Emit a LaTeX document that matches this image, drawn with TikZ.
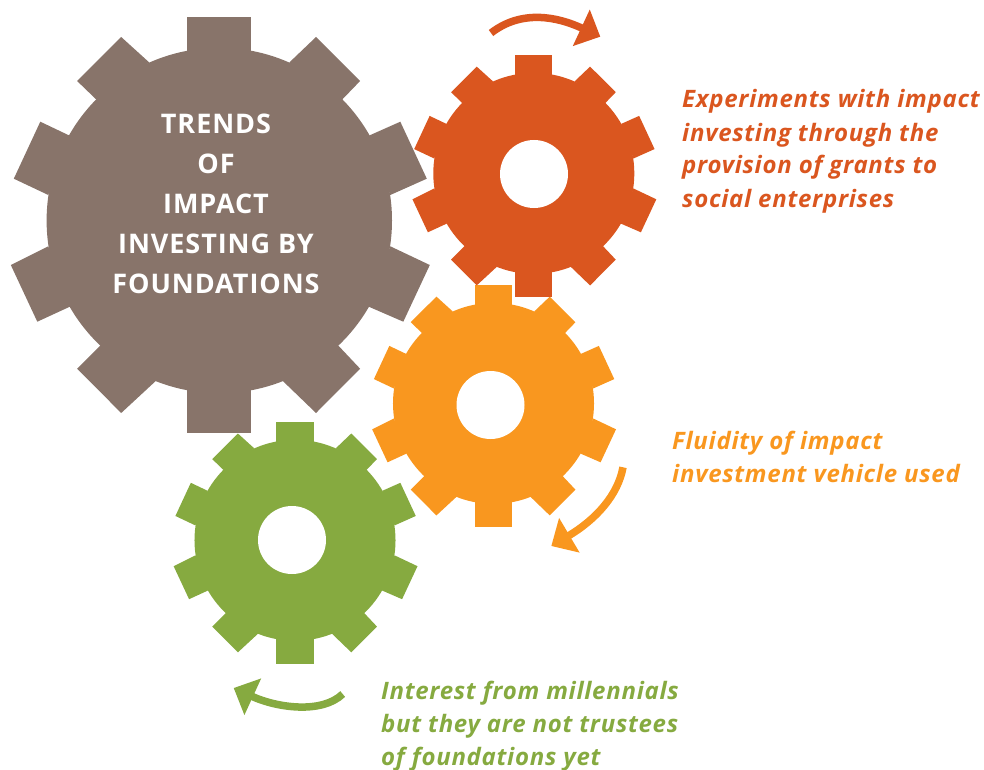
\documentclass[tikz,border=0pt]{standalone}
\usepackage{xcolor}
\usepackage{fontspec}
\usepackage{tikz}
\usetikzlibrary{arrows.meta,positioning}
\setmainfont{Open Sans}
\newfontfamily\titlefont[LetterSpace=3.5]{Open Sans}
\newfontfamily\notefont[LetterSpace=3]{Open Sans}
\definecolor{gearbrown}{RGB}{136,116,106}
\definecolor{gearred}{RGB}{218,86,31}
\definecolor{gearorange}{RGB}{249,151,31}
\definecolor{geargreen}{RGB}{134,170,64}

\begin{document}
\begin{tikzpicture}[
    x=1pt, y=-1pt,
    gear/.pic={
        \fill[#1] (0,0) circle (172.7);
        \fill[#1] (-32,-150) -- (-32,-203.5) -- (32,-203.5) -- (32,-150) -- cycle;
        \fill[#1] (-32,150) -- (-32,212.5) -- (32,212.5) -- (32,150) -- cycle;
        \foreach \s in {1,-1} {
            \fill[#1] (\s*70,-158) -- (\s*97.4-0.7,-183.5) -- (\s*141.5-0.7,-139.5) -- (\s*122,-120) -- cycle;
            \fill[#1] (\s*63,160) -- (\s*97.4-0.7,192.5) -- (\s*141.5-0.7,148.2) -- (\s*118,124) -- cycle;
            \fill[#1] (\s*150,-85) -- (\s*180+1,-98.8) -- (\s*206.5+1,-41.8) -- (\s*171,-25.5) -- cycle;
            \fill[#1] (\s*171,25.8) -- (\s*209.5+1,44.5) -- (\s*183+1,101.2) -- (\s*149,86) -- cycle;
        }
    },
    hole/.style={circle, fill=white, minimum size=68pt, inner sep=0pt},
    turn/.style={-{Triangle[length=21pt, width=39pt]}, line width=7.5pt},
    note/.style={anchor=base west, inner sep=0pt, align=left, font=\notefont\fontsize{24}{33}\selectfont\bfseries\itshape},
    headline/.style={inner sep=0pt, text=white, font=\titlefont\fontsize{27}{40}\selectfont\bfseries}
]
\useasboundingbox (0,0) rectangle (984,770);

% gears
\pic at (219.3,220.5) {gear=gearbrown};
\pic[scale=0.582] at (295,540.3) {gear=geargreen};
\pic[scale=0.582] at (493.5,403.4) {gear=gearorange};
\pic[scale=0.582] at (533.8,173.4) {gear=gearred};

\node[hole] (redhole) at (534,174) {};
\node[hole] (orangehole) at (490.5,405) {};
\node[hole] (greenhole) at (292,540) {};

% rotation arrows
\coordinate (redfrom) at (491,33);
\coordinate (redto) at (600.3,36.7);
\coordinate (orangefrom) at (623,467.3);
\coordinate (orangeto) at (551.3,546);
\coordinate (greenfrom) at (342.7,694);
\coordinate (greento) at (233.7,688);
\draw[turn, gearred] (redfrom) .. controls (522,9) and (558,17) .. (redto);
\draw[turn, gearorange] (orangefrom) .. controls (618,495) and (596,519.5) .. (orangeto);
\draw[turn, geargreen] (greenfrom) .. controls (322,714) and (277.4,708) .. (greento);

% labels
\node[headline] (trends) at (216,124) {TRENDS};
\node[headline] (of) at (216,164) {OF};
\node[headline] (impact) at (216,204) {IMPACT};
\node[headline] (investing) at (216,244) {INVESTING BY};
\node[headline] (foundations) at (216,284) {FOUNDATIONS};

\node[note, text=gearred] (rednote) at (682,207) {Experiments with impact\\investing through the\\provision of grants to\\social enterprises};
\node[note, text=gearorange] (orangenote) at (672,482.7) {Fluidity of impact\\investment vehicle used};
\node[note, text=geargreen] (greennote) at (381,765) {Interest from millennials\\but they are not trustees\\of foundations yet};
\end{tikzpicture}
\end{document}
